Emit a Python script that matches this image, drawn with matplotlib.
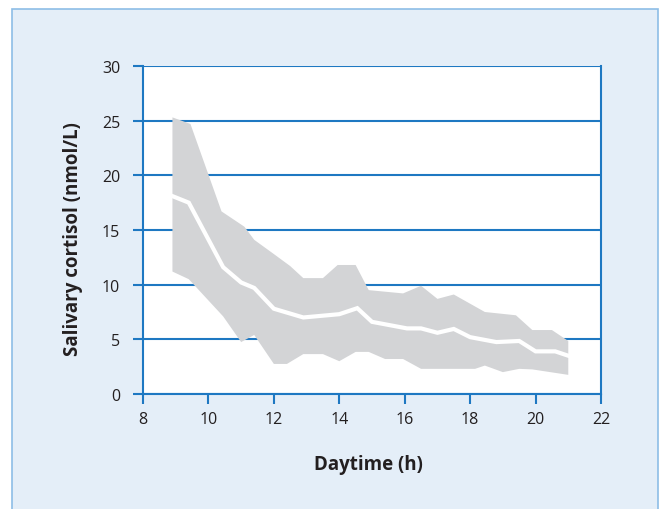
import matplotlib
matplotlib.use("Agg")
import matplotlib.pyplot as plt
from matplotlib.patches import Rectangle

plt.rcParams['font.family'] = ['Open Sans', 'DejaVu Sans']

# Data
upper_x = [8.9, 9.45, 10.4, 11.1, 11.4, 12, 12.5, 12.9, 13.5, 13.95, 14.5, 14.9,
           15.95, 16.5, 17.0, 17.5, 18.45, 19.4, 19.9, 20.5, 21]
upper_y = [25.3, 24.7, 16.7, 15.3, 14.1, 12.8, 11.7, 10.6, 10.6, 11.8, 11.8, 9.5,
           9.2, 9.9, 8.7, 9.1, 7.5, 7.2, 5.85, 5.85, 4.85]
lower_x = [8.9, 9.4, 10.45, 11, 11.4, 12, 12.4, 12.9, 13.5, 14, 14.5, 14.9, 15.4,
           15.95, 16.5, 18.15, 18.45, 19, 19.5, 19.9, 21]
lower_y = [11.2, 10.5, 7.1, 4.75, 5.4, 2.75, 2.75, 3.65, 3.65, 3.0, 3.85, 3.85, 3.2,
           3.2, 2.3, 2.3, 2.6, 2.0, 2.3, 2.25, 1.75]
median_x = [8.9, 9.4, 10.45, 11, 11.4, 12, 12.9, 14, 14.55, 15, 16.07, 16.5, 17,
            17.5, 18, 18.8, 19.5, 20, 20.6, 21]
median_y = [18.1, 17.5, 11.6, 10.2, 9.7, 7.8, 7.0, 7.3, 7.85, 6.6, 6.0, 6.0, 5.6,
            5.95, 5.2, 4.75, 4.85, 3.9, 3.9, 3.5]
x_ticks = [8, 10, 12, 14, 16, 18, 20, 22]
y_ticks = [0, 5, 10, 15, 20, 25, 30]

BLUE = '#1e78c2'
GRAY = '#d3d4d6'
TEXT = '#231f20'

fig = plt.figure(figsize=(6.6, 5.1), dpi=100)
fig.patch.set_facecolor('white')
bg = Rectangle((12/660, -0.05), (658-12)/660, (500/510) + 0.05,
               transform=fig.transFigure, facecolor='#e4eef8',
               edgecolor='#8dbde6', linewidth=1.2, zorder=-10)
fig.add_artist(bg)

ax = fig.add_axes([143/660, 1-395/510, (601-143)/660, (395-67)/510])
ax.set_zorder(1)
ax.set_facecolor('white')

band_x = upper_x + lower_x[::-1]
band_y = upper_y + lower_y[::-1]
ax.fill(band_x, band_y, color=GRAY, linewidth=0, zorder=3)
ax.plot(median_x, median_y, color='white', linewidth=3, zorder=4,
        solid_joinstyle='miter')

for yv in y_ticks:
    ax.axhline(yv, color=BLUE, linewidth=1.5, zorder=2)

ax.set_xlim(8, 22)
ax.set_ylim(0, 30)
ax.set_xticks(x_ticks)
ax.set_yticks(y_ticks)
ax.tick_params(axis='both', colors=BLUE, length=7.5, width=1.5,
               labelcolor=TEXT, labelsize=11.5, pad=5)
ax.tick_params(axis='y', pad=9)
for s in ['left', 'right', 'bottom']:
    ax.spines[s].set_color(BLUE)
    ax.spines[s].set_linewidth(1.5)
ax.spines['top'].set_visible(False)

ax.set_xlabel('Daytime (h)', fontsize=13.5, fontweight='bold', color=TEXT,
              va='center')
ax.xaxis.set_label_coords((368-143)/458, (395-465)/328)
ax.set_ylabel('Salivary cortisol (nmol/L)', fontsize=13.5, fontweight='bold',
              color=TEXT, va='center')
ax.yaxis.set_label_coords((73-143)/458, (395-239)/328)

fig.savefig('out.png', dpi=100)
